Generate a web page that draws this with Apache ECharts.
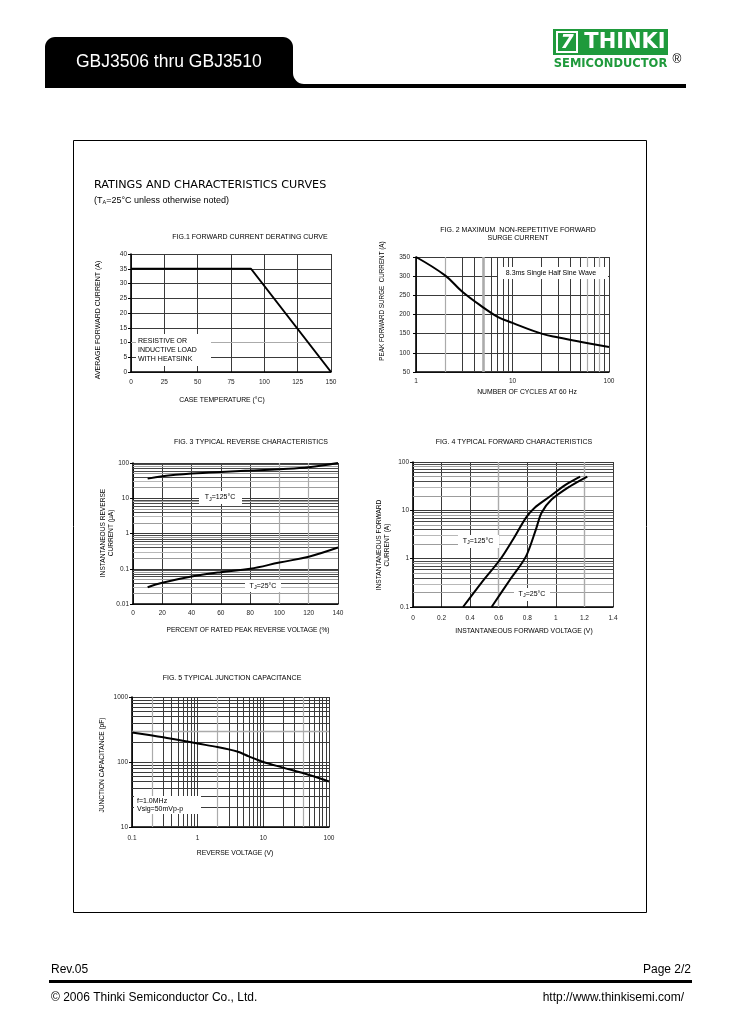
<!DOCTYPE html>
<html><head><meta charset="utf-8">
<script src="https://cdn.jsdelivr.net/npm/echarts@6/dist/echarts.min.js"></script>
<style>html,body{margin:0;padding:0;background:#fff}#c{width:729px;height:1032px}</style>
</head><body><div id="c"></div><script>
// ---------- data ----------
const fig1Temp = [0, 90, 150];
const fig1Current = [35, 35, 0];
const fig2Cycles = [1, 2, 3, 5, 7, 10, 20, 30, 50, 100];
const fig2Current = [350, 302, 260, 218, 194, 178, 150, 140, 129, 115];
const fig3Percent = [10, 20, 40, 60, 80, 100, 120, 140];
const fig3Tj125 = [36, 42, 50, 56, 61, 67, 76, 100];
const fig3Tj25 = [0.03, 0.04, 0.06, 0.08, 0.1, 0.15, 0.22, 0.4];
const fig4V125 = [0.35, 0.48, 0.61, 0.70, 0.79, 0.85, 0.96, 1.07, 1.17];
const fig4I125 = [0.1, 0.32, 0.96, 2.5, 7, 11.2, 19.5, 34, 50];
const fig4V25 = [0.55, 0.68, 0.79, 0.86, 0.90, 0.97, 1.10, 1.22];
const fig4I25 = [0.1, 0.37, 1.1, 4, 8.9, 16.7, 31.5, 50];
const fig5Voltage = [0.1, 0.3, 1, 2, 4, 6, 10, 20, 50, 100];
const fig5Cap = [285, 240, 192, 170, 145, 122, 100, 82, 63, 50];
// tick / grid values
const minorMult = [2, 3, 4, 5, 6, 7, 8, 9];
const fig2XDecades = [1, 10];
const fig3YDecades = [0.01, 0.1, 1, 10];
const fig4YDecades = [0.1, 1, 10];
const fig5XDecades = [0.1, 1, 10];
const fig5YDecades = [10, 100];
const fig1GrayY = [10];
const fig2GrayX = [2, 60, 80];
const fig2ThickGrayX = [5];
const fig3GrayX = [100, 120];
const fig4GrayX = [0.6, 1.2];
const fig5GrayX = [0.2, 2, 40];
const fig5GrayY = [300];

const FONT = "'Liberation Sans', Arial, Helvetica, sans-serif";
const DARK = '#3a3a3a', GRAY = '#ababab';
const shadeByMult = {2: '#9c9c9c', 3: '#b8b8b8', 4: '#4a4a4a', 5: '#a0a0a0', 6: '#4a4a4a', 7: '#4a4a4a', 8: '#a0a0a0', 9: '#4a4a4a'};

function zip(a, b) { return a.map((v, i) => [v, b[i]]); }
function ml(axis, v, c, w) { const o = {lineStyle: {color: c, width: w || 1, type: 'solid'}}; o[axis] = v; return o; }
function logMinor(axis, decades, colorFn) {
  const out = [];
  decades.forEach(d => minorMult.forEach(m => {
    const v = +(m * d).toPrecision(6);
    out.push(ml(axis, v, colorFn ? colorFn(m, v) : shadeByMult[m], 1));
  }));
  return out;
}
function gridSeries(idx, lines) {
  return {type: 'line', xAxisIndex: idx, yAxisIndex: idx, data: [], silent: true, z: 1,
    markLine: {silent: true, z: 1, animation: false, symbol: ['none', 'none'], label: {show: false},
      emphasis: {disabled: true}, data: lines}};
}
function curve(idx, xs, ys, smooth) {
  return {type: 'line', xAxisIndex: idx, yAxisIndex: idx, data: zip(xs, ys), symbol: 'none', smooth: smooth,
    z: 10, silent: true, lineStyle: {color: '#000', width: 2}};
}
function fmt(v) { return String(+(+v).toPrecision(6)); }
function axis(gi, extra, isY, margin) {
  return Object.assign({
    gridIndex: gi,
    axisLine: {show: true, onZero: false, lineStyle: {color: '#000', width: 1.6}},
    axisTick: {show: isY, length: 3, inside: false, lineStyle: {color: '#000', width: 1}},
    axisLabel: {fontSize: 6.5, color: '#222', fontFamily: FONT, margin: margin, formatter: fmt,
      showMinLabel: true, showMaxLabel: true, hideOverlap: false},
    splitLine: {show: true, lineStyle: {color: DARK, width: 1}},
    minorTick: {show: false}, minorSplitLine: {show: false}
  }, extra);
}
function T(x, y, text, o) {
  o = o || {};
  const st = {text: text, fill: o.color || '#000', fontSize: o.size || 7, fontFamily: o.family || FONT,
    fontWeight: o.weight || 'normal', textAlign: o.align || 'left', textVerticalAlign: o.valign || 'middle'};
  if (o.lh) st.lineHeight = o.lh;
  if (o.rich) st.rich = o.rich;
  if (o.fstyle) st.fontStyle = o.fstyle;
  return {type: 'text', x: x, y: y, rotation: o.rot || 0, z: o.z || 60, silent: true, style: st};
}
function R(x, y, w, h, fill, o) {
  o = o || {};
  return {type: 'rect', z: o.z || 50, silent: true, shape: {x: x, y: y, width: w, height: h, r: o.r || 0},
    style: {fill: fill, stroke: o.stroke || null, lineWidth: o.lw || 0}};
}
function arcPts(cx, cy, r, a0, a1, n) {
  const pts = [];
  for (let i = 0; i <= n; i++) {
    const a = (a0 + (a1 - a0) * i / n) * Math.PI / 180;
    pts.push([cx + r * Math.cos(a), cy + r * Math.sin(a)]);
  }
  return pts;
}
const tabPoints = [[45, 88]]
  .concat(arcPts(55, 47, 10, 180, 270, 8))
  .concat(arcPts(283, 47, 10, 270, 360, 8))
  .concat(arcPts(304, 73, 11, 180, 90, 8))
  .concat([[686, 84], [686, 88]]);
const sub = {s: {fontSize: 5.5, verticalAlign: 'bottom', fontFamily: FONT, padding: [3, 0, 0, 0]}};

const grids = [
  {left: 131, top: 254, width: 200, height: 118},
  {left: 416, top: 257, width: 193, height: 115},
  {left: 133, top: 463, width: 205, height: 141},
  {left: 413, top: 462, width: 200, height: 145},
  {left: 132, top: 697, width: 197, height: 130}
];

const option = {
  animation: false,
  backgroundColor: '#fff',
  grid: grids.map(g => Object.assign({show: false, containLabel: false, outerBoundsMode: 'none'}, g)),
  xAxis: [
    axis(0, {type: 'value', min: 0, max: 150, interval: 25}, false, 7),
    axis(1, {type: 'log', logBase: 10, min: 1, max: 100}, false, 6),
    axis(2, {type: 'value', min: 0, max: 140, interval: 20}, false, 6),
    axis(3, {type: 'value', min: 0, max: 1.4, interval: 0.2}, false, 8),
    axis(4, {type: 'log', logBase: 10, min: 0.1, max: 100}, false, 8)
  ],
  yAxis: [
    axis(0, {type: 'value', min: 0, max: 40, interval: 5}, true, 4),
    axis(1, {type: 'value', min: 50, max: 350, interval: 50}, true, 6),
    axis(2, {type: 'log', logBase: 10, min: 0.01, max: 100}, true, 4),
    axis(3, {type: 'log', logBase: 10, min: 0.1, max: 100}, true, 4),
    axis(4, {type: 'log', logBase: 10, min: 10, max: 1000}, true, 4)
  ],
  series: [
    gridSeries(0, fig1GrayY.map(v => ml('yAxis', v, GRAY, 1.2))),
    gridSeries(1, logMinor('xAxis', fig2XDecades, () => DARK)
      .concat(fig2GrayX.map(v => ml('xAxis', v, GRAY, 1.2)))
      .concat(fig2ThickGrayX.map(v => ml('xAxis', v, GRAY, 2.6)))),
    gridSeries(2, logMinor('yAxis', fig3YDecades).concat(fig3GrayX.map(v => ml('xAxis', v, GRAY, 1.2)))),
    gridSeries(3, logMinor('yAxis', fig4YDecades).concat(fig4GrayX.map(v => ml('xAxis', v, GRAY, 1.4)))),
    gridSeries(4, logMinor('xAxis', fig5XDecades, () => DARK)
      .concat(logMinor('yAxis', fig5YDecades, () => DARK))
      .concat(fig5GrayX.map(v => ml('xAxis', v, GRAY, 1.2)))
      .concat(fig5GrayY.map(v => ml('yAxis', v, GRAY, 1.4)))),
    curve(0, fig1Temp, fig1Current, false),
    curve(1, fig2Cycles, fig2Current, 0.4),
    curve(2, fig3Percent, fig3Tj125, 0.4),
    curve(2, fig3Percent, fig3Tj25, 0.4),
    curve(3, fig4V125, fig4I125, 0.3),
    curve(3, fig4V25, fig4I25, 0.3),
    curve(4, fig5Voltage, fig5Cap, 0.3)
  ],
  graphic: [
    // header
    {type: 'polygon', z: 40, silent: true, shape: {points: tabPoints}, style: {fill: '#000'}},
    T(76, 62, 'GBJ3506 thru GBJ3510', {size: 17.5, color: '#fff'}),
    R(553, 29, 115, 26, '#1f9a3c', {z: 40}),
    R(557, 32, 20, 20, '#1f9a3c', {z: 41, stroke: '#fff', lw: 2}),
    T(567, 43, '7', {size: 19, color: '#fff', weight: 'bold', align: 'center', family: "'DejaVu Sans', sans-serif", fstyle: 'italic'}),
    T(625, 43, 'THINKI', {size: 21, color: '#fff', weight: 'bold', align: 'center', family: "'DejaVu Sans', sans-serif"}),
    T(610.5, 64, 'SEMICONDUCTOR', {size: 11.5, color: '#1f9a3c', weight: 'bold', align: 'center', family: "'DejaVu Sans', sans-serif"}),
    T(677, 60, '®', {size: 12, align: 'center'}),
    // frame
    {type: 'rect', z: 5, silent: true, shape: {x: 73.5, y: 140.5, width: 573, height: 772}, style: {fill: null, stroke: '#000', lineWidth: 1}},
    T(94, 185, 'RATINGS AND CHARACTERISTICS CURVES', {size: 11.2, family: "'DejaVu Sans', sans-serif"}),
    T(94, 201, '(T{s|A}=25°C unless otherwise noted)', {size: 9, rich: sub}),
    // fig1
    T(250, 237, 'FIG.1 FORWARD CURRENT DERATING CURVE', {size: 7, align: 'center'}),
    T(98, 320, 'AVERAGE FORWARD CURRENT (A)', {size: 7, align: 'center', rot: Math.PI / 2}),
    T(222, 400, 'CASE TEMPERATURE (°C)', {size: 6.8, align: 'center'}),
    R(136, 334, 75, 32, '#fff'),
    T(138, 350, 'RESISTIVE OR\nINDUCTIVE LOAD\nWITH HEATSINK', {size: 7, lh: 8.6}),
    // fig2
    T(518, 234, 'FIG. 2 MAXIMUM  NON-REPETITIVE FORWARD\nSURGE CURRENT', {size: 7, align: 'center', lh: 8.5, valign: 'middle'}),
    T(382, 301, 'PEAK FORWARD SURGE  CURRENT (A)', {size: 6.3, align: 'center', rot: Math.PI / 2}),
    T(527, 392, 'NUMBER OF CYCLES AT 60 Hz', {size: 6.8, align: 'center'}),
    R(498, 267, 110, 12, '#fff'),
    T(551, 273.5, '8.3ms Single Half Sine Wave', {size: 7, align: 'center'}),
    // fig3
    T(251, 442, 'FIG. 3 TYPICAL REVERSE CHARACTERISTICS', {size: 7, align: 'center'}),
    T(107, 533, 'INSTANTANEOUS REVERSE\nCURRENT (µA)', {size: 6.6, align: 'center', rot: Math.PI / 2, lh: 8.5}),
    T(248, 630, 'PERCENT OF RATED PEAK REVERSE VOLTAGE (%)', {size: 6.6, align: 'center'}),
    R(199, 491, 43, 13, '#fff'),
    T(220, 497.5, 'T{s|J}=125°C', {size: 7, align: 'center', rich: sub}),
    R(245, 580, 36, 12, '#fff'),
    T(263, 586, 'T{s|J}=25°C', {size: 7, align: 'center', rich: sub}),
    // fig4
    T(514, 442, 'FIG. 4 TYPICAL FORWARD CHARACTERISTICS', {size: 7, align: 'center'}),
    T(383, 545, 'INSTANTANEOUS FORWARD\nCURRENT (A)', {size: 6.6, align: 'center', rot: Math.PI / 2, lh: 8.5}),
    T(524, 631, 'INSTANTANEOUS FORWARD VOLTAGE (V)', {size: 6.8, align: 'center'}),
    R(458, 535, 41, 13, '#fff'),
    T(478, 541, 'T{s|J}=125°C', {size: 7, align: 'center', rich: sub}),
    R(514, 588, 36, 13, '#fff'),
    T(532, 594, 'T{s|J}=25°C', {size: 7, align: 'center', rich: sub}),
    // fig5
    T(232, 678, 'FIG. 5 TYPICAL JUNCTION CAPACITANCE', {size: 7, align: 'center'}),
    T(102, 765, 'JUNCTION CAPACITANCE (pF)', {size: 6.6, align: 'center', rot: Math.PI / 2}),
    T(235, 853, 'REVERSE VOLTAGE (V)', {size: 6.8, align: 'center'}),
    R(134, 796, 67, 18, '#fff'),
    T(137, 805.5, 'f=1.0MHz\nVsig=50mVp-p', {size: 7, lh: 8}),
    // footer
    T(51, 970, 'Rev.05', {size: 12}),
    T(691, 970, 'Page 2/2', {size: 12, align: 'right'}),
    R(49, 980, 643, 3, '#000', {z: 40}),
    T(51, 998, '© 2006 Thinki Semiconductor Co., Ltd.', {size: 12}),
    T(684, 998, 'http://www.thinkisemi.com/', {size: 12, align: 'right'})
  ]
};
const chart = echarts.init(document.getElementById('c'), null, {renderer: 'canvas', width: 729, height: 1032});
chart.setOption(option);
</script></body></html>
